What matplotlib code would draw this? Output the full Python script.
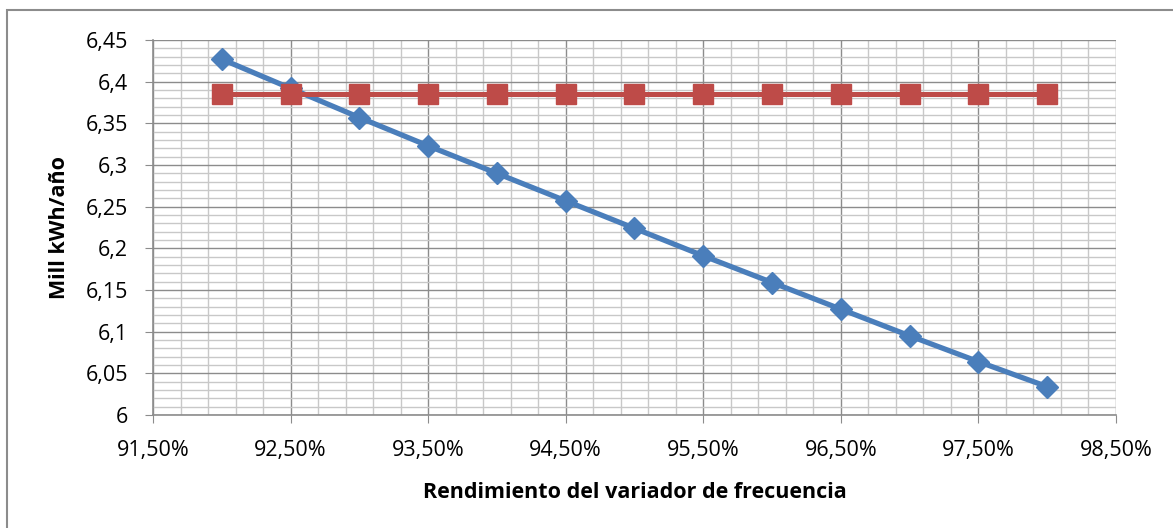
import matplotlib.pyplot as plt
from matplotlib.ticker import MultipleLocator, FuncFormatter
from matplotlib.patches import Rectangle

plt.rcParams['font.family'] = ['Open Sans', 'DejaVu Sans']

# rendimiento del variador (%)
rendimiento = [92.0, 92.5, 93.0, 93.5, 94.0, 94.5, 95.0, 95.5, 96.0, 96.5, 97.0, 97.5, 98.0]
# consumo con variador (Mill kWh/año)
consumo_variador = [6.427, 6.392, 6.357, 6.323, 6.290, 6.257, 6.224, 6.191, 6.159, 6.127, 6.095, 6.064, 6.034]
# consumo de referencia (constante)
consumo_ref = [6.385] * len(rendimiento)

W, H = 1173, 528
fig = plt.figure(figsize=(W / 100, H / 100), dpi=100)
ax = fig.add_axes([153 / W, 1 - 415 / H, (1116 - 153) / W, (415 - 40) / H])

# outer chart border
fig.patches.append(Rectangle((7 / W, -0.1), 1.2, 1 - 10 / H + 0.1, transform=fig.transFigure,
                             fill=False, edgecolor="#8c8c8c", linewidth=1.5))

ax.plot(rendimiento, consumo_variador, color="#4A7EBB", linewidth=3.8, marker="D",
        markersize=11, zorder=3)
ax.plot(rendimiento, consumo_ref, color="#BE4B48", linewidth=3.6, marker="s",
        markersize=14.5, zorder=4)

ax.set_xlim(91.5, 98.5)
ax.set_ylim(6.0, 6.45)
ax.xaxis.set_major_locator(MultipleLocator(1.0, offset=0.5))
ax.xaxis.set_minor_locator(MultipleLocator(0.2, offset=0.1))
ax.yaxis.set_major_locator(MultipleLocator(0.05))
ax.yaxis.set_minor_locator(MultipleLocator(0.01))

ax.xaxis.set_major_formatter(FuncFormatter(lambda v, p: f"{v:.2f}%".replace(".", ",")))
ax.yaxis.set_major_formatter(FuncFormatter(lambda v, p: f"{v:.2f}".rstrip("0").rstrip(".").replace(".", ",")))

ax.grid(which="major", color="#8c8c8c", linewidth=1.0)
ax.grid(which="minor", color="#c8c8c8", linewidth=1.0)
ax.set_axisbelow(True)

for s in ["top", "right"]:
    ax.spines[s].set_visible(False)
for s in ["left", "bottom"]:
    ax.spines[s].set_color("#8c8c8c")
    ax.spines[s].set_linewidth(1.2)

ax.tick_params(which="major", length=6, color="#8c8c8c", labelsize=15.5)
ax.tick_params(axis="y", pad=12)
ax.tick_params(axis="x", pad=12)
ax.tick_params(which="minor", length=0)

ax.set_xlabel("Rendimiento del variador de frecuencia", fontsize=15.5, fontweight="bold", labelpad=15)
ax.set_ylabel("Mill kWh/año", fontsize=15.5, fontweight="bold", labelpad=11)

plt.savefig("out.png", dpi=100)
